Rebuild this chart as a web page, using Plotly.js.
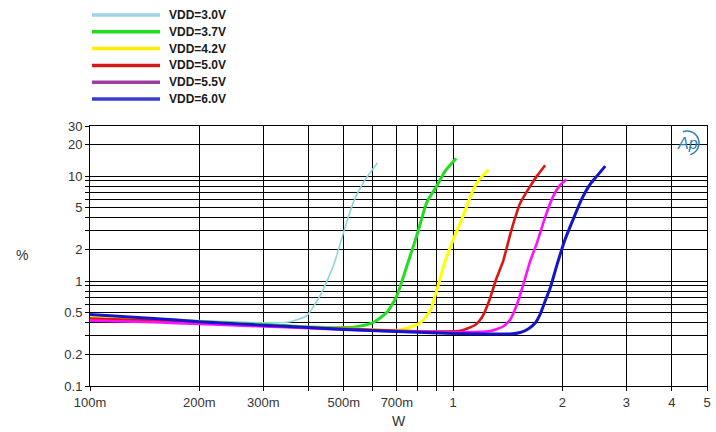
<!DOCTYPE html>
<html><head><meta charset="utf-8">
<script src="https://cdn.plot.ly/plotly-3.0.1.min.js"></script>
<style>html,body{margin:0;padding:0;background:#fff}#chart{width:716px;height:432px}</style>
</head><body><div id="chart"></div>
<script>
// ---- data ----
const seriesNames = ['VDD=3.0V','VDD=3.7V','VDD=4.2V','VDD=5.0V','VDD=5.5V','VDD=6.0V'];

const vdd30_x = [0.1, 0.15, 0.2, 0.3, 0.356, 0.395, 0.43, 0.468, 0.504, 0.531, 0.566, 0.619];
const vdd30_y = [0.47, 0.44, 0.42, 0.40, 0.41, 0.467, 0.724, 1.40, 3.25, 5.62, 8.71, 13.4];

const vdd37_x = [0.1, 0.15, 0.2, 0.3, 0.4, 0.5, 0.554, 0.603, 0.657, 0.70, 0.746, 0.794, 0.846, 0.902, 0.951, 1.019];
const vdd37_y = [0.45, 0.43, 0.41, 0.385, 0.365, 0.36, 0.372, 0.404, 0.503, 0.724, 1.40, 2.70, 5.62, 8.08, 11.2, 14.7];

const vdd42_x = [0.1, 0.15, 0.2, 0.3, 0.4, 0.5, 0.6, 0.714, 0.811, 0.864, 0.903, 0.951, 1.002, 1.065, 1.128, 1.179, 1.251];
const vdd42_y = [0.45, 0.43, 0.41, 0.38, 0.36, 0.35, 0.345, 0.341, 0.398, 0.518, 0.839, 1.55, 2.51, 4.16, 7.0, 9.26, 11.5];

const vdd50_x = [0.1, 0.15, 0.2, 0.3, 0.4, 0.5, 0.7, 0.9, 1.045, 1.15, 1.202, 1.256, 1.314, 1.373, 1.444, 1.53, 1.63, 1.704, 1.792];
const vdd50_y = [0.44, 0.42, 0.40, 0.375, 0.36, 0.35, 0.335, 0.33, 0.336, 0.381, 0.454, 0.645, 1.045, 1.55, 2.99, 5.53, 8.03, 10.1, 12.7];

const vdd55_x = [0.1, 0.15, 0.2, 0.3, 0.4, 0.5, 0.7, 1.0, 1.265, 1.373, 1.436, 1.50, 1.564, 1.63, 1.704, 1.792, 1.886, 1.97, 2.048];
const vdd55_y = [0.42, 0.405, 0.39, 0.37, 0.355, 0.345, 0.333, 0.325, 0.334, 0.369, 0.43, 0.604, 0.957, 1.55, 2.35, 4.07, 6.45, 8.2, 9.26];

const vdd60_x = [0.1, 0.15, 0.2, 0.3, 0.4, 0.5, 0.7, 1.0, 1.2, 1.436, 1.53, 1.609, 1.682, 1.737, 1.792, 1.85, 1.934, 2.035, 2.141, 2.252, 2.385, 2.493, 2.623];
const vdd60_y = [0.48, 0.44, 0.41, 0.38, 0.36, 0.345, 0.33, 0.317, 0.313, 0.313, 0.323, 0.349, 0.398, 0.485, 0.645, 0.858, 1.45, 2.51, 3.89, 5.91, 8.39, 10.1, 12.45];

const xTickVals = [0.1,0.2,0.3,0.4,0.5,0.6,0.7,0.8,0.9,1,2,3,4,5];
const xTickText = ['100m','200m','300m','','500m','','700m','','','1','2','3','4','5'];
const yTickVals = [0.1,0.2,0.3,0.4,0.5,0.6,0.7,0.8,0.9,1,2,3,4,5,6,7,8,9,10,20,30];
const yTickText = ['0.1','0.2','','','0.5','','','','','1','2','','','5','','','','','10','20','30'];

const xTitle = 'W';
const yTitle = '%';
const logoText = 'Ap';

// ---- styles ----
const seriesX = [vdd30_x, vdd37_x, vdd42_x, vdd50_x, vdd55_x, vdd60_x];
const seriesY = [vdd30_y, vdd37_y, vdd42_y, vdd50_y, vdd55_y, vdd60_y];
const lineColors = ['#8cd6dc', '#22dd22', '#ffff00', '#dd1515', '#ff10ff', '#1515cc'];
const lineWidths = [1.6, 3, 3, 2.6, 2.6, 3];
const legendColors = ['#9fd4e4', '#1fdd1f', '#fff000', '#d21c1c', '#9b3f9b', '#3a3ad6'];

const W = 716, H = 432;
const M = {l: 90, r: 9, t: 126, b: 46};
const pw = W - M.l - M.r, ph = H - M.t - M.b;
const px2x = p => (p - M.l) / pw;
const py2y = p => (H - M.b - p) / ph;

const traces = seriesX.map((xs, i) => ({
  x: xs, y: seriesY[i], type: 'scatter', mode: 'lines', name: seriesNames[i],
  line: {color: lineColors[i], width: lineWidths[i], shape: 'spline', smoothing: 0.5},
  showlegend: false, hoverinfo: 'skip'
}));

const shapes = [];
const annotations = [];
const legendRowY = [15, 31.8, 48.6, 65.4, 82.2, 99];
seriesNames.forEach((n, i) => {
  shapes.push({type: 'line', xref: 'paper', yref: 'paper',
    x0: px2x(92), x1: px2x(160), y0: py2y(legendRowY[i]), y1: py2y(legendRowY[i]),
    line: {color: legendColors[i], width: 3.5}});
  annotations.push({xref: 'paper', yref: 'paper', x: px2x(167), y: py2y(legendRowY[i]),
    xanchor: 'left', yanchor: 'middle', text: n, showarrow: false,
    font: {family: 'Liberation Sans, Arial, sans-serif', size: 12, color: '#1a1a1a', weight: 'bold'}});
});

annotations.push({xref: 'paper', yref: 'paper', x: px2x(22), y: py2y(255), xanchor: 'center', yanchor: 'middle',
  text: yTitle, showarrow: false, font: {family: 'Liberation Sans, Arial, sans-serif', size: 14, color: '#333'}});
annotations.push({xref: 'paper', yref: 'paper', x: 0.5, y: py2y(421), xanchor: 'center', yanchor: 'middle',
  text: xTitle, showarrow: false, font: {family: 'Liberation Sans, Arial, sans-serif', size: 14, color: '#333'}});
annotations.push({xref: 'paper', yref: 'paper', x: px2x(687), y: py2y(143), xanchor: 'center', yanchor: 'middle',
  text: logoText, showarrow: false, font: {family: 'Liberation Sans, Arial, sans-serif', size: 16, color: '#2f7db3', style: 'italic'}});

// logo arc
let arc = '';
const R = 12;
for (let a = 110; a >= -75; a -= 5) {
  const r = a * Math.PI / 180;
  arc += (arc ? ' L' : 'M') + (R * Math.cos(r)).toFixed(2) + ',' + (R * Math.sin(r)).toFixed(2);
}
shapes.push({type: 'path', xref: 'paper', yref: 'paper', xsizemode: 'pixel', ysizemode: 'pixel',
  xanchor: px2x(687), yanchor: py2y(143), path: arc, line: {color: '#2f7db3', width: 1.5}});

const axisCommon = {
  type: 'log', showgrid: true, gridcolor: '#000', gridwidth: 1,
  showline: true, linecolor: '#000', linewidth: 1, mirror: true,
  ticks: 'outside', ticklen: 4, tickcolor: '#000', tickmode: 'array',
  tickfont: {family: 'Liberation Sans, Arial, sans-serif', size: 13, color: '#333'},
  zeroline: false, fixedrange: true
};

const layout = {
  width: W, height: H, margin: M, paper_bgcolor: '#fff', plot_bgcolor: '#fff',
  showlegend: false,
  xaxis: Object.assign({}, axisCommon, {range: [-1, Math.log10(5)], tickvals: xTickVals, ticktext: xTickText}),
  yaxis: Object.assign({}, axisCommon, {range: [-1, Math.log10(30)], tickvals: yTickVals, ticktext: yTickText}),
  shapes: shapes, annotations: annotations
};

Plotly.newPlot('chart', traces, layout, {staticPlot: true, displayModeBar: false});
</script>
</body></html>
